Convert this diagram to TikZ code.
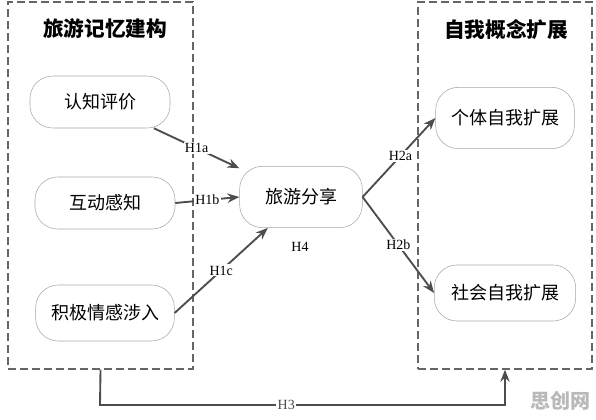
\documentclass[tikz,border=0pt]{standalone}
\usepackage{fontspec}
\setmainfont{Liberation Serif}
\newfontfamily\cjk{Noto Sans CJK SC}
\usetikzlibrary{arrows.meta}
\definecolor{linegray}{HTML}{4D4D4D}
\definecolor{boxgray}{HTML}{666666}
\begin{document}
\begin{tikzpicture}[x=0.75pt,y=-0.75pt,thick,
    main node/.style={draw=gray!70,thin,rounded corners=17pt,minimum height=39pt,inner xsep=8pt,font=\cjk\fontsize{13.5}{14}\selectfont},
    group box/.style={draw=boxgray,line width=1.1pt,dash pattern=on 6pt off 3pt,minimum height=275.25pt},
    hyp/.style={fill=white,inner sep=1pt,font=\fontsize{10.5}{11}\selectfont},
    every edge/.style={draw=linegray,line width=1.4pt,-{Stealth[length=9pt,width=7pt]}}]
                \useasboundingbox (0,0) rectangle (596,420);
                \node[group box,minimum width=138.75pt] at (100.5,185.5) (mem) {};
                \node[group box,minimum width=130.5pt] at (505,185.5) (self) {};
                \node[font=\cjk\bfseries\fontsize{15.5}{16}\selectfont] at (105,29) (memt) {旅游记忆建构};
                \node[font=\cjk\bfseries\fontsize{15.5}{16}\selectfont] at (506,30) (selft) {自我概念扩展};
                \node[main node,minimum width=105pt] at (100,102) (cog) {认知评价};
                \node[main node,minimum width=105pt] at (105,203) (inter) {互动感知};
                \node[main node,minimum width=104pt,minimum height=42pt] at (105,313) (emo) {积极情感涉入};
                \node[main node,minimum width=92pt,minimum height=46pt] at (301,197) (share) {旅游分享};
                \node[main node,minimum width=104pt,minimum height=46pt] at (505,118) (ind) {个体自我扩展};
                \node[main node,minimum width=106pt,minimum height=42pt] at (505,293) (soc) {社会自我扩展};
                \node[hyp] at (300,247) (h4) {H4};
                \path (cog.-26) edge node[hyp,pos=0.5] {H1a} (share.155);
                \path (inter.east) edge node[hyp] {H1b} (share.west);
                \path (emo.east) edge node[hyp,pos=0.5] {H1c} (share.-137);
                \path (share.east) edge node[hyp,pos=0.52] {H2a} (ind.west);
                \path (share.east) edge node[hyp,pos=0.5] {H2b} (soc.west);
                \draw[linegray,line width=1.4pt,-{Stealth[length=9pt,width=7pt]}]
                    (mem.south) -- (100,405) -| node[hyp,pos=0.23] {H3} (self.south);
                \node[text=gray!55,font=\cjk\bfseries\fontsize{15}{16}\selectfont] at (560,401) (mark) {思创网};
            \end{tikzpicture}
\end{document}
